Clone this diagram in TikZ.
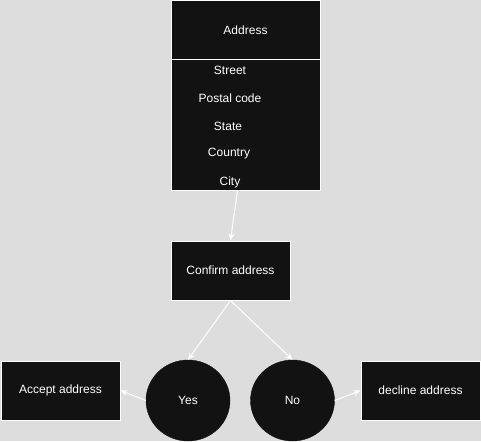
\documentclass[tikz,border=0pt]{standalone}
\usepackage{fontspec}
\setmainfont{Liberation Sans}
\usetikzlibrary{arrows.meta,shapes.geometric}
\definecolor{bgcol}{HTML}{DDDDDD}
\definecolor{boxfill}{HTML}{121212}
\tikzset{
  box/.style={draw=white, fill=boxfill, text=white, line width=1pt, inner sep=0pt},
  field/.style={text=white, inner sep=0pt},
  answer/.style={ellipse, draw=boxfill, fill=boxfill, text=white, minimum width=84pt, minimum height=81pt, inner sep=0pt},
  link/.style={draw=white, line width=1pt, -{Stealth[length=7pt,width=6pt]}}
}
\begin{document}
\begin{tikzpicture}[x=1pt,y=-1pt,font=\fontsize{12}{14}\selectfont]
\fill[bgcol] (0,0) rectangle (481,441);
\useasboundingbox (0,0) rectangle (481,441);
% address entity
\node[box, minimum width=149pt, minimum height=59pt] (address) at (245.5,30.5) {Address};
\node[box, minimum width=149pt, minimum height=130pt] (fields) at (245.5,125) {};
\node[field] (street) at (230,70) {Street};
\node[field] (postal) at (230,98) {Postal code};
\node[field] (state) at (228,126) {State};
\node[field] (country) at (229,154) {Country};
\node[field] (city) at (230,182) {City};
% decision
\node[box, minimum width=119pt, minimum height=59pt] (confirm) at (230.5,270.5) {Confirm address};
\node[answer] (yes) at (188,400.5) {Yes};
\node[answer] (no) at (292.5,400.5) {No};
\node[box, minimum width=119pt, minimum height=59pt] (accept) at (60.5,390.5) {Accept address};
\node[box, minimum width=119pt, minimum height=59pt] (decline) at (420.5,390.5) {decline address};
% connectors
\draw[link] ([xshift=-8pt]fields.south) -- (confirm.north);
\draw[link] (confirm.south) -- (yes.north);
\draw[link] (confirm.south) -- (no.north);
\draw[link] (yes.west) -- (accept.east);
\draw[link] (no.east) -- (decline.west);
\end{tikzpicture}
\end{document}
